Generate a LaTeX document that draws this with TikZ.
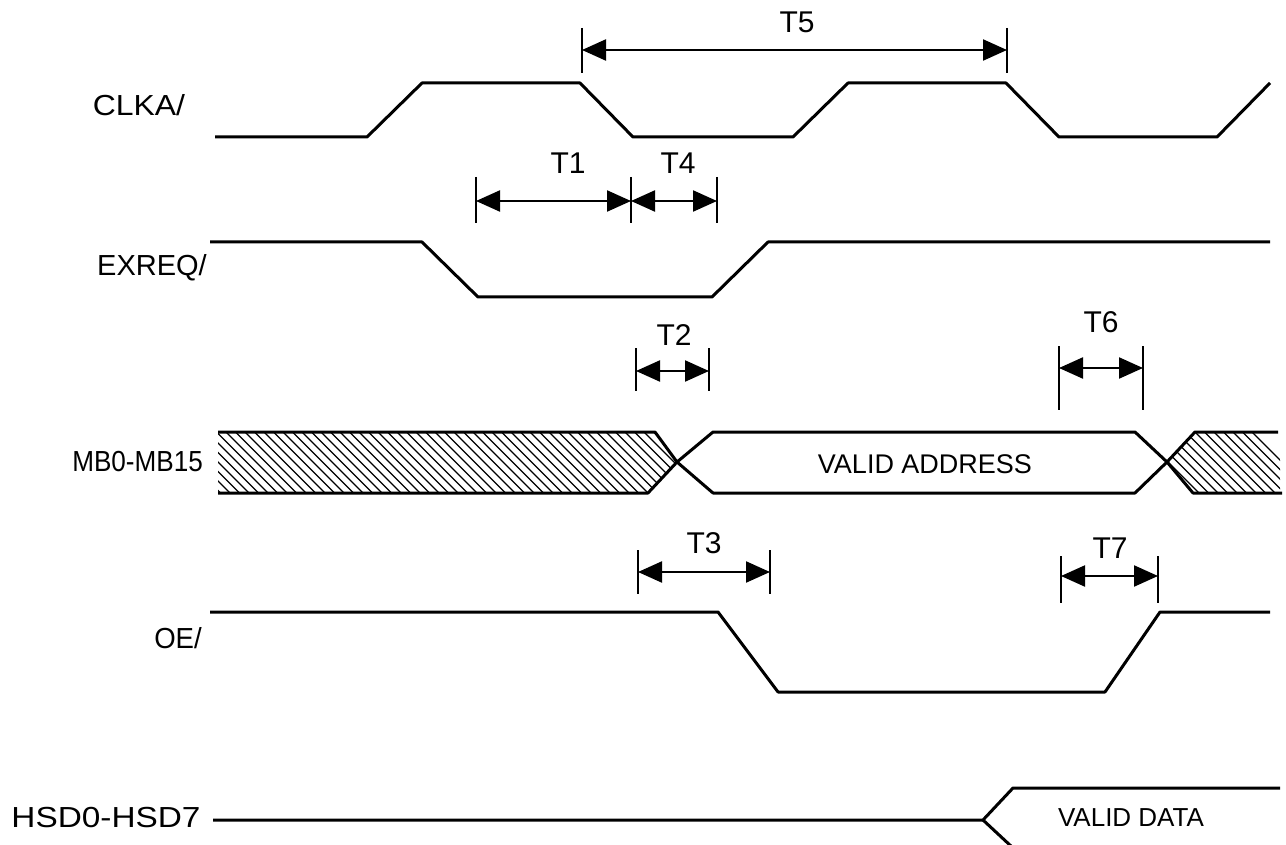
\documentclass[tikz,border=0pt]{standalone}
\usepackage{fontspec}
\setmainfont{Liberation Sans}
\usetikzlibrary{arrows.meta}
\begin{document}
\begin{tikzpicture}[x=1pt,y=-1pt,
  sig/.style={line width=3pt, line join=round},
  tickline/.style={line width=2.8pt},
  hatchline/.style={line width=1.3pt},
  dim/.style={line width=2.2pt, {Triangle[length=24pt,width=21pt]}-{Triangle[length=24pt,width=21pt]}},
  slabel/.style={font=\fontsize{29}{29}\selectfont, inner sep=0pt},
  tlabel/.style={font=\fontsize{30}{30}\selectfont, inner sep=0pt},
  vlabel/.style={font=\fontsize{27}{27}\selectfont, inner sep=0pt}]
\useasboundingbox (0,0) rectangle (1286,845);

% ---------- labels ----------
\node[slabel] (lclk) at (139,105) {\scalebox{1.1}[1]{CLKA/}};
\node[slabel] (lexr) at (152,268) {EXREQ/};
\node[slabel, anchor=east] (lmb) at (203,462) {\scalebox{0.9}[1]{MB0-MB15}};
\node[slabel] (loe)  at (178,638) {\scalebox{0.95}[1]{OE/}};
\node[slabel] (lhsd) at (106,818) {\scalebox{1.15}[1]{HSD0-HSD7}};
\node[vlabel] (lva)  at (925,464) {VALID ADDRESS};
\node[font=\fontsize{26}{26}\selectfont, inner sep=0pt] (lvd) at (1131,818) {VALID DATA};

% ---------- CLKA/ ----------
\draw[sig] (215,137) -- (367,137) -- (422,83) -- (580,83) -- (633,137)
  -- (793,137) -- (848,83) -- (1006,83) -- (1059,137) -- (1217,137) -- (1270,83);

% ---------- EXREQ/ ----------
\draw[sig] (210,242) -- (422,242) -- (478,297) -- (712,297) -- (768,242) -- (1270,242);

% ---------- MB0-MB15 ----------
\begin{scope}
  \clip (218,432) -- (655,432) -- (677,462) -- (648,493) -- (218,493) -- cycle;
  \foreach \i in {0,...,55} \draw[hatchline] (150+\i*9.5,432) -- ++(61,61);
\end{scope}
\begin{scope}
  \clip (1167,462) -- (1195,432) -- (1280,432) -- (1280,493) -- (1193,493) -- cycle;
  \foreach \i in {0,...,16} \draw[hatchline] (1100+\i*9.5,432) -- ++(61,61);
\end{scope}
\draw[sig] (218,432) -- (655,432) -- (677,462);
\draw[sig] (218,493) -- (648,493) -- (677,462) -- (713,432) -- (1135,432)
  -- (1167,462) -- (1193,493) -- (1282,493);
\draw[sig] (677,462) -- (713,493) -- (1135,493) -- (1167,462) -- (1195,432) -- (1278,432);

% ---------- OE/ ----------
\draw[sig] (210,612) -- (718,612) -- (778,692) -- (1105,692) -- (1160,612) -- (1270,612);

% ---------- HSD0-HSD7 ----------
\coordinate (hs) at (213,820);
\draw[sig] (hs) -- (983,820) -- (1013,788) -- (1280,788);
\draw[sig] (983,820) -- (1012,847);

% ---------- T5 ----------
\coordinate (t5a) at (582,50); \coordinate (t5b) at (1007,50);
\draw[tickline] (582,28) -- (582,73);
\draw[tickline] (1007,28) -- (1007,73);
\draw[dim] (t5a) -- (t5b);
\node[tlabel] (lt5) at (797,22) {T5};

% ---------- T1 / T4 ----------
\coordinate (t1a) at (476,201); \coordinate (t1b) at (631,201); \coordinate (t4b) at (717,201);
\draw[tickline] (476,177) -- (476,223);
\draw[tickline] (631,177) -- (631,223);
\draw[tickline] (717,177) -- (717,223);
\draw[dim] (t1a) -- (t1b);
\draw[dim] (t1b) -- (t4b);
\node[tlabel] (lt1) at (568,163) {T1};
\node[tlabel] (lt4) at (678,163) {T4};

% ---------- T2 ----------
\coordinate (t2a) at (636,371); \coordinate (t2b) at (709,371);
\draw[tickline] (636,348) -- (636,391);
\draw[tickline] (709,348) -- (709,391);
\draw[dim] (t2a) -- (t2b);
\node[tlabel] (lt2) at (674,335) {T2};

% ---------- T6 ----------
\coordinate (t6a) at (1059,368); \coordinate (t6b) at (1143,368);
\draw[tickline] (1059,346) -- (1059,410);
\draw[tickline] (1143,346) -- (1143,410);
\draw[dim] (t6a) -- (t6b);
\node[tlabel] (lt6) at (1101,322) {T6};

% ---------- T3 ----------
\coordinate (t3a) at (638,572); \coordinate (t3b) at (770,572);
\draw[tickline] (638,550) -- (638,594);
\draw[tickline] (770,550) -- (770,594);
\draw[dim] (t3a) -- (t3b);
\node[tlabel] (lt3) at (704,543) {T3};

% ---------- T7 ----------
\coordinate (t7a) at (1061,576); \coordinate (t7b) at (1158,576);
\draw[tickline] (1061,556) -- (1061,603);
\draw[tickline] (1158,556) -- (1158,603);
\draw[dim] (t7a) -- (t7b);
\node[tlabel] (lt7) at (1110,548) {T7};
\end{tikzpicture}
\end{document}
